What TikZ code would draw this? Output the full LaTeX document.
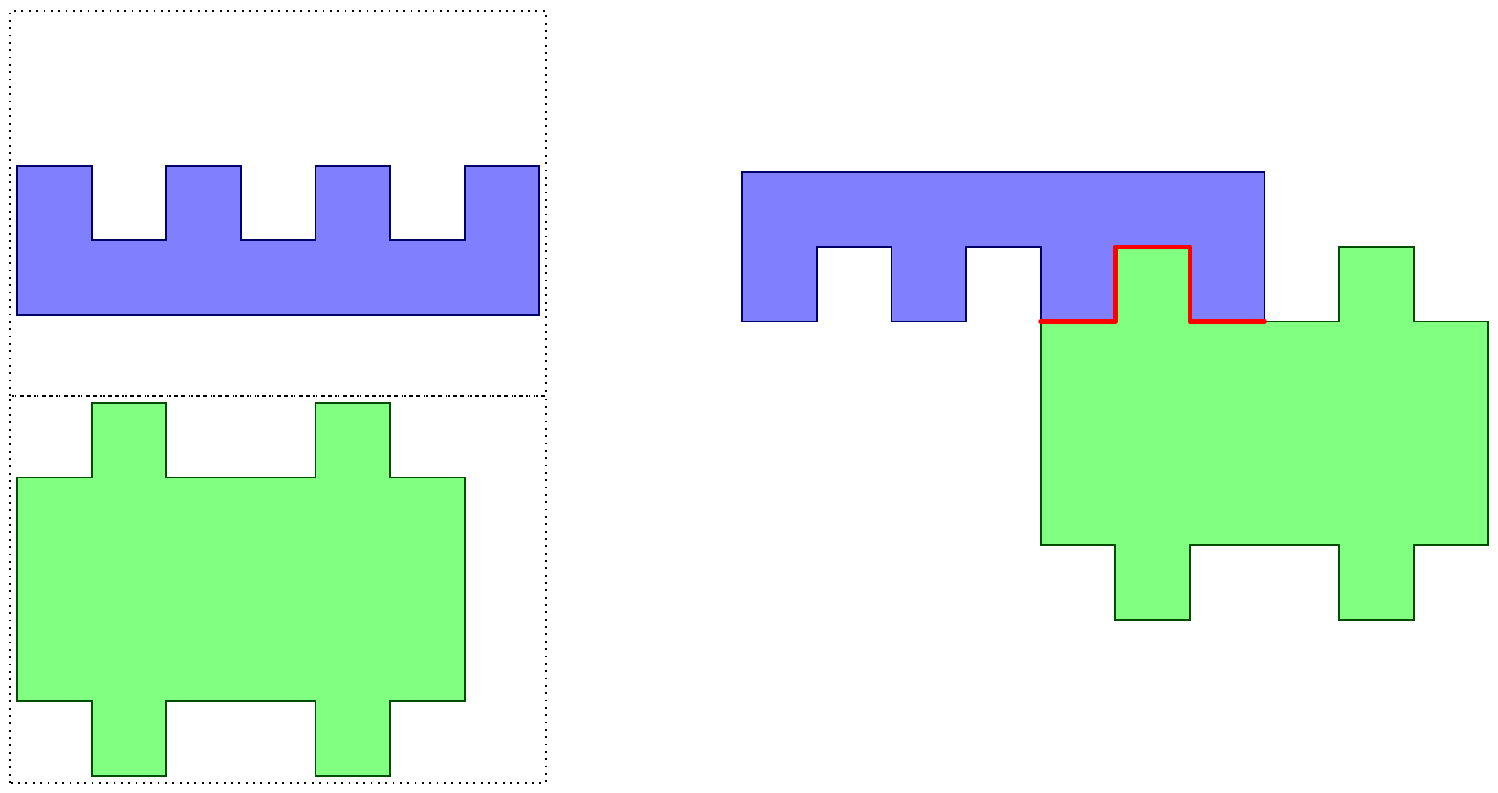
\documentclass[tikz,border=0pt]{standalone}
\usetikzlibrary{calc}
\tikzset{
  blueshape/.style={fill=blue!50, draw=blue!40!black, line width=0.7pt},
  greenshape/.style={fill=green!50, draw=green!30!black, line width=0.7pt},
  frame/.style={line width=0.7pt, dash pattern=on 0.7pt off 2.1pt},
  redline/.style={red, line width=1.8pt, line cap=round, line join=round}
}
\begin{document}
\begin{tikzpicture}
\useasboundingbox (-0.228,-0.228) rectangle (19.85,10.40);
% dotted frames
\draw[frame] (-0.094,-0.094) rectangle (7.09,5.09);
\draw[frame] (-0.094,5.09) rectangle (7.09,10.25);
% left blue
\begin{scope}[shift={(0,6.18)}]
\draw[blueshape] (0,0) -- (7,0) -- (7,2) -- (6,2) -- (6,1) -- (5,1) -- (5,2) -- (4,2) -- (4,1) -- (3,1) -- (3,2) -- (2,2) -- (2,1) -- (1,1) -- (1,2) -- (0,2) -- cycle;
\end{scope}
% left green
\begin{scope}[shift={(0,1)}]
\draw[greenshape] (0,0) -- (1,0) -- (1,-1) -- (2,-1) -- (2,0) -- (4,0) -- (4,-1) -- (5,-1) -- (5,0) -- (6,0) -- (6,3) -- (5,3) -- (5,4) -- (4,4) -- (4,3) -- (2,3) -- (2,4) -- (1,4) -- (1,3) -- (0,3) -- cycle;
\end{scope}
% right blue
\begin{scope}[shift={(9.72,6.09)}]
\draw[blueshape] (0,0) -- (1,0) -- (1,1) -- (2,1) -- (2,0) -- (3,0) -- (3,1) -- (4,1) -- (4,0) -- (5,0) -- (5,1) -- (6,1) -- (6,0) -- (7,0) -- (7,2) -- (0,2) -- cycle;
\end{scope}
% right green
\begin{scope}[shift={(13.72,3.09)}]
\draw[greenshape] (0,0) -- (1,0) -- (1,-1) -- (2,-1) -- (2,0) -- (4,0) -- (4,-1) -- (5,-1) -- (5,0) -- (6,0) -- (6,3) -- (5,3) -- (5,4) -- (4,4) -- (4,3) -- (2,3) -- (2,4) -- (1,4) -- (1,3) -- (0,3) -- cycle;
\end{scope}
% red contact line
\begin{scope}[shift={(13.72,6.09)}]
\coordinate (r0) at (0,0);
\coordinate (r1) at (1,0);
\coordinate (r2) at (1,1);
\coordinate (r3) at (2,1);
\coordinate (r4) at (2,0);
\coordinate (r5) at (3,0);
\draw[redline] (r0) -- (r1) -- (r2) -- (r3) -- (r4) -- (r5);
\end{scope}
\end{tikzpicture}
\end{document}
